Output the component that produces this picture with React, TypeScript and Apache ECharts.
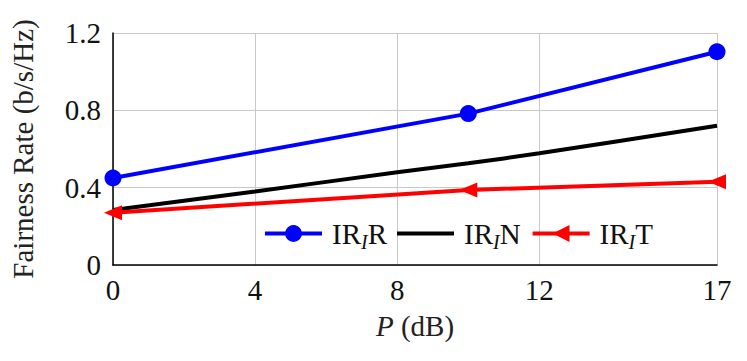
import React, { useEffect, useRef } from "react";
import * as echarts from "echarts";

const xTicks = [0, 4, 8, 12, 17];
const yTicks = [0, 0.4, 0.8, 1.2];

const xR = [0, 10, 17];
const yR = [0.45, 0.783, 1.103];

const xN = [0, 4, 8, 10, 12, 17];
const yN = [0.285, 0.38, 0.48, 0.526, 0.578, 0.72];

const xT = [0, 10, 17];
const yT = [0.27, 0.388, 0.431];

const names = ["IRIR", "IRIN", "IRIT"];

const FONT = "'Liberation Serif', 'Times New Roman', Times, serif";

export default function App() {
  const ref = useRef<HTMLDivElement>(null);
  useEffect(() => {
    if (!ref.current) return;
    const chart = echarts.init(ref.current, undefined, { renderer: "svg" });
    const pair = (xs: number[], ys: number[]) => xs.map((x, i) => [x, ys[i]]);
    chart.setOption({
      animation: false,
      textStyle: { fontFamily: FONT },
      grid: { left: 113, top: 33, width: 604, height: 232, containLabel: false },
      xAxis: {
        type: "value",
        min: 0,
        max: 17,
        name: "{i|P} (dB)",
        nameLocation: "middle",
        nameGap: 46,
        nameTextStyle: {
          fontFamily: FONT,
          fontSize: 29,
          color: "#222",
          rich: { i: { fontFamily: FONT, fontSize: 29, fontStyle: "italic", color: "#222" } },
        },
        axisLine: { show: true, onZero: false, lineStyle: { color: "#000", width: 1.5 } },
        axisTick: { show: false, customValues: xTicks },
        axisLabel: { customValues: xTicks, fontFamily: FONT, fontSize: 29, color: "#111", margin: 10 },
        splitLine: { show: true, lineStyle: { color: "#c8c8c8", width: 1 } },
      },
      yAxis: {
        type: "value",
        min: 0,
        max: 1.2,
        interval: 0.4,
        name: "Fairness Rate (b/s/Hz)",
        nameLocation: "middle",
        nameGap: 76,
        nameTextStyle: { fontFamily: FONT, fontSize: 29, color: "#222" },
        axisLine: { show: true, onZero: false, lineStyle: { color: "#000", width: 1.5 } },
        axisTick: { show: false },
        axisLabel: {
          fontFamily: FONT,
          fontSize: 29,
          color: "#111",
          margin: 12,
          formatter: (v: number) => (v === 0 ? "0" : v.toFixed(1)),
        },
        splitLine: { show: true, lineStyle: { color: "#c8c8c8", width: 1 } },
      },
      legend: {
        left: 263,
        top: 219,
        itemWidth: 57,
        itemHeight: 21,
        itemGap: 10,
        padding: 0,
        lineStyle: { width: 4 },
        data: [
          { name: names[0] },
          { name: names[1], icon: "path://M0,0 L57,0 L57,4 L0,4 Z" },
          { name: names[2] },
        ],
        formatter: (name: string) => `IR{s|I}${name.slice(-1)}`,
        textStyle: {
          fontFamily: FONT,
          fontSize: 29,
          color: "#111",
          padding: [0, 0, 0, 5],
          rich: {
            s: { fontFamily: FONT, fontSize: 20, fontStyle: "italic", color: "#111", padding: [16, 0, 0, 0] },
          },
        },
      },
      series: [
        {
          name: names[0],
          type: "line",
          data: pair(xR, yR),
          symbol: "circle",
          symbolSize: 17,
          itemStyle: { color: "#0000ff" },
          lineStyle: { color: "#0000ff", width: 4 },
          z: 3,
        },
        {
          name: names[1],
          type: "line",
          data: pair(xN, yN),
          symbol: "none",
          smooth: 0.3,
          itemStyle: { color: "#000" },
          lineStyle: { color: "#000", width: 4 },
          z: 4,
        },
        {
          name: names[2],
          type: "line",
          data: pair(xT, yT),
          symbol: "triangle",
          symbolSize: [15, 18],
          symbolRotate: 90,
          itemStyle: { color: "#ff0000" },
          lineStyle: { color: "#ff0000", width: 4 },
          z: 5,
        },
      ],
    });
    return () => chart.dispose();
  }, []);
  return <div ref={ref} style={{ width: 747, height: 361, position: "absolute", left: 0, top: 0 }} />;
}
